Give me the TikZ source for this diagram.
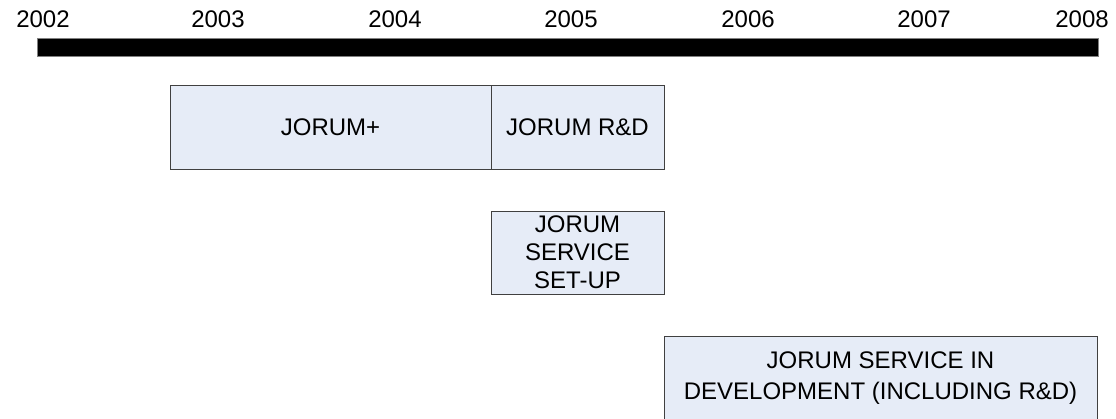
\documentclass[tikz,border=0pt]{standalone}
\usepackage{fontspec}
\setmainfont{Liberation Sans}
\definecolor{boxfill}{RGB}{230,236,247}
\definecolor{boxline}{RGB}{64,64,64}
\begin{document}
\begin{tikzpicture}[x=1pt,y=-1pt,
  year/.style={anchor=base,font=\fontsize{24}{28}\selectfont,inner sep=0},
  phase/.style={draw=boxline,line width=1pt,fill=boxfill,inner sep=0,align=center,font=\fontsize{24}{28}\selectfont},
]
\useasboundingbox (0,0) rectangle (1116,418);
\clip (0,0) rectangle (1116,418);
\node[fill=black,draw=gray,line width=0.8pt,minimum width=1061pt,minimum height=18pt,inner sep=0] (bar) at (567.5,47) {};
\node[year] (y2002) at (43,27) {2002};
\node[year] (y2003) at (218,27) {2003};
\node[year] (y2004) at (395,27) {2004};
\node[year] (y2005) at (571,27) {2005};
\node[year] (y2006) at (748,27) {2006};
\node[year] (y2007) at (924,27) {2007};
\node[year] (y2008) at (1082,27) {2008};
\node[phase,minimum width=321pt,minimum height=84pt] (plus) at (330.5,127) {JORUM+};
\node[phase,minimum width=173pt,minimum height=84pt] (rd) at (577.5,127) {JORUM R\&D};
\node[phase,minimum width=173pt,minimum height=83pt] (setup) at (577.5,252.5) {JORUM\\SERVICE\\SET-UP};
\node[phase,minimum width=433pt,minimum height=84pt,font=\fontsize{24}{31}\selectfont] (dev) at (880.5,378) {JORUM SERVICE IN\\DEVELOPMENT (INCLUDING R\&D)};
\end{tikzpicture}
\end{document}
